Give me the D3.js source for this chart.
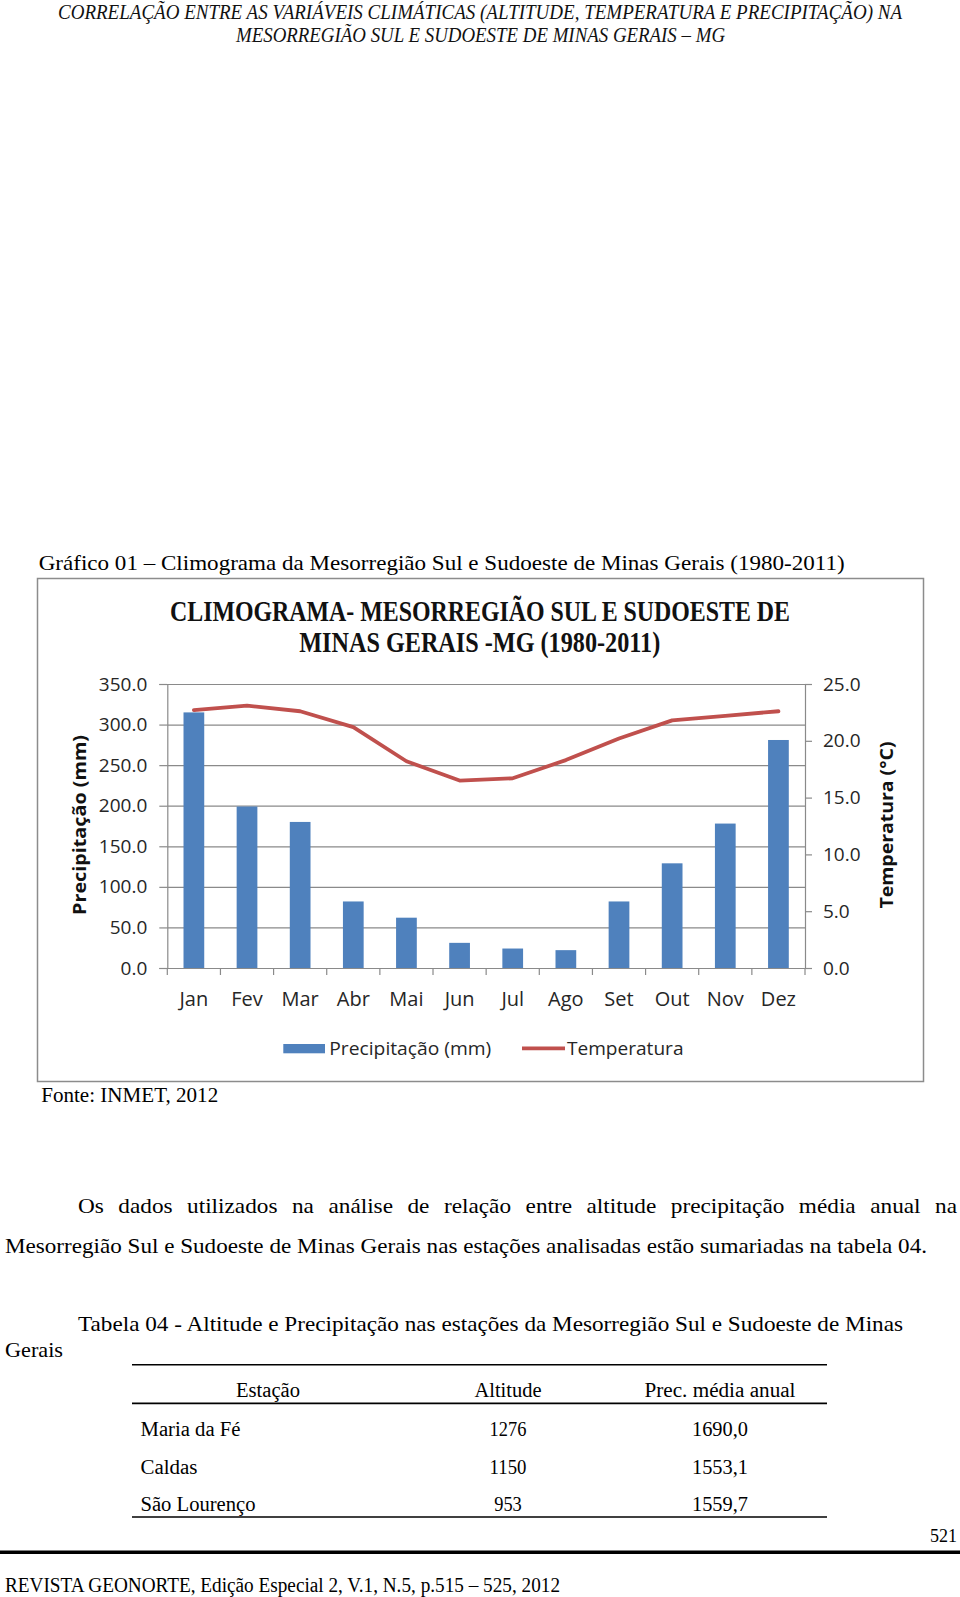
<!DOCTYPE html>
<html>
<head>
<meta charset="utf-8">
<script src="https://cdn.jsdelivr.net/npm/d3@7"></script>
<style>
  html, body { margin: 0; padding: 0; background: #fff; }
  svg { display: block; }
</style>
</head>
<body>
<script>
// ---------- DATA ----------
const months = ["Jan","Fev","Mar","Abr","Mai","Jun","Jul","Ago","Set","Out","Nov","Dez"];
const precipitation = [315, 199, 180, 82, 62, 31, 24, 22, 82, 129, 178, 281];
const temperature = [22.7, 23.1, 22.6, 21.2, 18.2, 16.5, 16.7, 18.3, 20.2, 21.8, 22.2, 22.6];
const precipTicks = [0, 50, 100, 150, 200, 250, 300, 350];
const tempTicks = [0, 5, 10, 15, 20, 25];

const stations = ["Maria da Fé", "Caldas", "São Lourenço"];
const altitudes = ["1276", "1150", "953"];
const annualPrecip = ["1690,0", "1553,1", "1559,7"];
const tableHeaders = ["Estação", "Altitude", "Prec. média anual"];

// ---------- PAGE ----------
const W = 960, H = 1597;
const svg = d3.select("body").append("svg").attr("width", W).attr("height", H);
svg.append("rect").attr("width", W).attr("height", H).attr("fill", "#fff");

const SERIF = "'Liberation Serif', 'Times New Roman', serif";
const SANS = "'Open Sans', 'Noto Sans', sans-serif";

function txt(g, str, x, y, o) {
  o = o || {};
  const t = g.append("text")
    .attr("x", x).attr("y", y)
    .attr("font-family", o.family || SERIF)
    .attr("font-size", o.size || 20)
    .attr("fill", o.fill || "#000")
    .attr("text-anchor", o.anchor || "start")
    .text(str);
  if (o.weight) t.attr("font-weight", o.weight);
  if (o.style) t.attr("font-style", o.style);
  if (o.len) t.attr("textLength", o.len).attr("lengthAdjust", "spacingAndGlyphs");
  if (o.transform) t.attr("transform", o.transform);
  return t;
}

// justified line: words slightly widened, spread evenly between xStart and xEnd
function justified(g, str, xStart, xEnd, y, size, gapTarget) {
  const words = str.split(" ");
  const nodes = words.map(w => txt(g, w, 0, y, {size: size}));
  const widths = nodes.map(n => n.node().getComputedTextLength());
  const total = d3.sum(widths);
  const span = xEnd - xStart;
  const f = Math.max(1, (span - gapTarget * (words.length - 1)) / total);
  const gap = (span - total * f) / (words.length - 1);
  let cx = xStart;
  nodes.forEach((n, i) => {
    const w = widths[i] * f;
    n.attr("x", cx).attr("textLength", w).attr("lengthAdjust", "spacingAndGlyphs");
    cx += w + gap;
  });
}

// Running header
txt(svg, "CORRELAÇÃO ENTRE AS VARIÁVEIS CLIMÁTICAS (ALTITUDE, TEMPERATURA E PRECIPITAÇÃO) NA", 480, 19,
  {size: 20, style: "italic", anchor: "middle", len: 844, fill: "#111"});
txt(svg, "MESORREGIÃO SUL E SUDOESTE DE MINAS GERAIS – MG", 480.5, 41.5,
  {size: 20, style: "italic", anchor: "middle", len: 489, fill: "#111"});

// Figure caption
txt(svg, "Gráfico 01 – Climograma da Mesorregião Sul e Sudoeste de Minas Gerais (1980-2011)", 38.7, 570,
  {size: 21, len: 806});

// Chart frame
svg.append("rect").attr("x", 37.5).attr("y", 578.5).attr("width", 886).attr("height", 503)
  .attr("fill", "#fff").attr("stroke", "#8c8c8c").attr("stroke-width", 1.5);

// Chart title
txt(svg, "CLIMOGRAMA- MESORREGIÃO SUL E SUDOESTE DE", 480, 621,
  {size: 30, weight: "bold", anchor: "middle", len: 620, fill: "#111"});
txt(svg, "MINAS GERAIS -MG (1980-2011)", 479.7, 651.5,
  {size: 30, weight: "bold", anchor: "middle", len: 361, fill: "#111"});

// ---------- CHART ----------
const x0 = 167.3, x1 = 805, yTop = 684, yBot = 968;
const x = d3.scaleBand().domain(months).range([x0, x1]).padding(0);
const yP = d3.scaleLinear().domain([0, 350]).range([yBot, yTop]);
const yT = d3.scaleLinear().domain([0, 25]).range([yBot, yTop]);

const chart = svg.append("g");
const GRID = "#8a8a8a";
const LABEL = "#262626";

// gridlines
chart.append("g").attr("transform", `translate(${x0},0)`)
  .call(d3.axisLeft(yP).tickValues(precipTicks).tickSize(-(x1 - x0)).tickFormat(""))
  .call(g => g.select(".domain").remove())
  .call(g => g.selectAll("line").attr("stroke", GRID).attr("stroke-width", 1.2));

// left axis
const la = chart.append("g").attr("transform", `translate(${x0},0)`)
  .call(d3.axisLeft(yP).tickValues(precipTicks).tickSize(8).tickPadding(12).tickFormat(d => d.toFixed(1)));
la.select(".domain").attr("stroke", GRID).attr("stroke-width", 1.2);
la.selectAll("line").attr("stroke", GRID).attr("stroke-width", 1.2);
la.selectAll("text").attr("font-family", SANS).attr("font-size", 19).attr("fill", LABEL);

// right axis
const ra = chart.append("g").attr("transform", `translate(${x1},0)`)
  .call(d3.axisRight(yT).tickValues(tempTicks).tickSize(7).tickPadding(11).tickFormat(d => d.toFixed(1)));
ra.select(".domain").attr("stroke", GRID).attr("stroke-width", 1.2);
ra.selectAll("line").attr("stroke", GRID).attr("stroke-width", 1.2);
ra.selectAll("text").attr("font-family", SANS).attr("font-size", 19).attr("fill", LABEL);

// bottom axis (labels)
const ba = chart.append("g").attr("transform", `translate(0,${yBot})`)
  .call(d3.axisBottom(x).tickSize(0).tickPadding(24));
ba.select(".domain").attr("stroke", GRID).attr("stroke-width", 1.2);
ba.selectAll("text").attr("font-family", SANS).attr("font-size", 20).attr("fill", LABEL);
// category boundary ticks
const bounds = months.map(m => x(m)).concat([x1]);
chart.append("g").selectAll("line").data(bounds).join("line")
  .attr("x1", d => d).attr("x2", d => d).attr("y1", yBot).attr("y2", yBot + 7)
  .attr("stroke", GRID).attr("stroke-width", 1.2);

// bars
const barW = x.bandwidth() * 0.39;
chart.append("g").selectAll("rect").data(months).join("rect")
  .attr("x", (m) => x(m) + (x.bandwidth() - barW) / 2)
  .attr("y", (m, i) => yP(precipitation[i]))
  .attr("width", barW)
  .attr("height", (m, i) => yBot - yP(precipitation[i]))
  .attr("fill", "#4f81bd");

// temperature line
const line = d3.line().x((d, i) => x(months[i]) + x.bandwidth() / 2).y(d => yT(d));
chart.append("path").datum(temperature).attr("d", line)
  .attr("fill", "none").attr("stroke", "#c0504d").attr("stroke-width", 3.8)
  .attr("stroke-linejoin", "round").attr("stroke-linecap", "round");

// axis titles
txt(chart, "Precipitação (mm)", 0, 0, {family: SANS, size: 18, weight: "bold", anchor: "middle", len: 180,
  fill: "#111", transform: "translate(86,825) rotate(-90)"});
txt(chart, "Temperatura (°C)", 0, 0, {family: SANS, size: 18, weight: "bold", anchor: "middle", len: 167,
  fill: "#111", transform: "translate(893,825) rotate(-90)"});

// legend
const lg = chart.append("g");
lg.append("rect").attr("x", 283.3).attr("y", 1044).attr("width", 41.7).attr("height", 9.3).attr("fill", "#4f81bd");
txt(lg, "Precipitação (mm)", 329.3, 1054.5, {family: SANS, size: 19, len: 162, fill: LABEL});
lg.append("line").attr("x1", 522).attr("x2", 565).attr("y1", 1048.3).attr("y2", 1048.3)
  .attr("stroke", "#c0504d").attr("stroke-width", 3.8);
txt(lg, "Temperatura", 567, 1054.5, {family: SANS, size: 19, len: 116.5, fill: LABEL});

// source
txt(svg, "Fonte: INMET, 2012", 41.2, 1101.5, {size: 20, len: 177});

// ---------- BODY TEXT ----------
justified(svg, "Os dados utilizados na análise de relação entre altitude precipitação média anual na", 78, 957, 1213, 21, 14.5);
txt(svg, "Mesorregião Sul e Sudoeste de Minas Gerais nas estações analisadas estão sumariadas na tabela 04.", 5, 1252.5,
  {size: 21.5, len: 922});
txt(svg, "Tabela 04 - Altitude e Precipitação nas estações da Mesorregião Sul e Sudoeste de Minas", 78, 1331,
  {size: 21.5, len: 825});
txt(svg, "Gerais", 5, 1357, {size: 21.5, len: 58});

// ---------- TABLE ----------
const tx0 = 132, tx1 = 827;
const tbl = svg.append("g");
[1364.7, 1403.4, 1517].forEach(yy => {
  tbl.append("line").attr("x1", tx0).attr("x2", tx1).attr("y1", yy).attr("y2", yy)
    .attr("stroke", "#000").attr("stroke-width", 1.6);
});
const colC = [268, 508, 720];
const headLens = [64, 67, 151];
tableHeaders.forEach((h, i) => txt(tbl, h, colC[i], 1397, {size: 20, anchor: "middle", len: headLens[i]}));
const rowY = [1436, 1473.5, 1511];
const stLens = [100, 57, 115];
stations.forEach((s, i) => {
  txt(tbl, s, 140.5, rowY[i], {size: 20, len: stLens[i]});
  txt(tbl, altitudes[i], colC[1], rowY[i], {size: 20, anchor: "middle", len: altitudes[i].length * 9.2});
  txt(tbl, annualPrecip[i], colC[2], rowY[i], {size: 20, anchor: "middle", len: 56});
});

// ---------- FOOTER ----------
txt(svg, "521", 957, 1542, {size: 19, anchor: "end", len: 27});
svg.append("rect").attr("x", 0).attr("y", 1550.5).attr("width", W).attr("height", 3.5).attr("fill", "#000");
txt(svg, "REVISTA GEONORTE, Edição Especial 2, V.1, N.5,  p.515 – 525, 2012", 5, 1591.5, {size: 20, len: 555});
</script>
</body>
</html>
